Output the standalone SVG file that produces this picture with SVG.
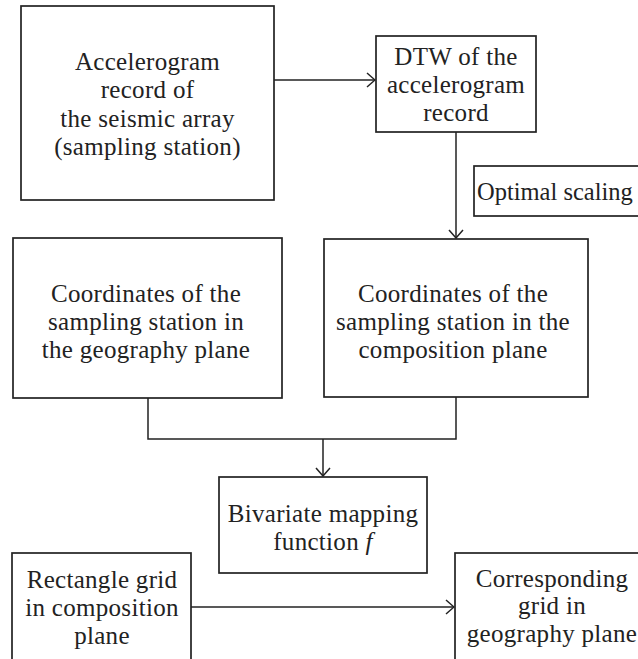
<svg xmlns="http://www.w3.org/2000/svg" width="638" height="659" viewBox="0 0 638 659">
<defs>
<style>
.box{fill:#fff;stroke:#222;stroke-width:1.7}
.t{font-family:"Liberation Serif","Times New Roman",serif;font-size:25px;letter-spacing:0.3px;fill:#222;text-anchor:middle}
.ts{text-anchor:start;font-size:24.5px;letter-spacing:0}
.c{fill:none;stroke:#222;stroke-width:1.5}
</style>
<marker id="ah" viewBox="0 0 10 16" refX="9" refY="8" markerWidth="10" markerHeight="16" markerUnits="userSpaceOnUse" orient="auto">
<path d="M1,1 L9,8 L1,15" fill="none" stroke="#222" stroke-width="1.5"/>
</marker>
</defs>
<rect width="638" height="659" fill="#fff"/>
<g id="connectors">
<line class="c" x1="274" y1="80" x2="375" y2="80" marker-end="url(#ah)"/>
<line class="c" x1="456" y1="132" x2="456" y2="238" marker-end="url(#ah)"/>
<polyline class="c" points="148,398 148,439 456,439 456,397"/>
<line class="c" x1="323" y1="439" x2="323" y2="476" marker-end="url(#ah)"/>
<line class="c" x1="191" y1="607" x2="454" y2="607" marker-end="url(#ah)"/>
</g>
<g id="accelerogram">
<rect class="box" x="21" y="6" width="253" height="194"/>
<text class="t" x="147.5" y="70">Accelerogram</text>
<text class="t" x="147.5" y="98">record of</text>
<text class="t" x="147.5" y="127">the seismic array</text>
<text class="t" x="147.5" y="155">(sampling station)</text>
</g>
<g id="dtw">
<rect class="box" x="376" y="36" width="160" height="96"/>
<text class="t" x="456" y="65">DTW of the</text>
<text class="t" x="456" y="93">accelerogram</text>
<text class="t" x="456" y="121">record</text>
</g>
<g id="optimal-scaling">
<rect class="box" x="474" y="166" width="180" height="50"/>
<text class="t ts" x="477" y="200">Optimal scaling</text>
</g>
<g id="geo-coords">
<rect class="box" x="13" y="238" width="269" height="160"/>
<text class="t" x="146" y="302">Coordinates of the</text>
<text class="t" x="146" y="330">sampling station in</text>
<text class="t" x="146" y="358">the geography plane</text>
</g>
<g id="comp-coords">
<rect class="box" x="324" y="239" width="264" height="158"/>
<text class="t" x="453" y="302">Coordinates of the</text>
<text class="t" x="453" y="330">sampling station in the</text>
<text class="t" x="453" y="358">composition plane</text>
</g>
<g id="bivariate">
<rect class="box" x="219" y="477" width="208" height="96"/>
<text class="t" x="323" y="522">Bivariate mapping</text>
<text class="t" x="323" y="550">function <tspan font-style="italic">f</tspan></text>
</g>
<g id="rect-grid">
<rect class="box" x="12" y="553" width="179" height="120"/>
<text class="t" x="102" y="588">Rectangle grid</text>
<text class="t" x="102" y="616">in composition</text>
<text class="t" x="102" y="644">plane</text>
</g>
<g id="corr-grid">
<rect class="box" x="455" y="553" width="200" height="120"/>
<text class="t" x="552" y="587">Corresponding</text>
<text class="t" x="552" y="614">grid in</text>
<text class="t" x="552" y="642">geography plane</text>
</g>
</svg>
